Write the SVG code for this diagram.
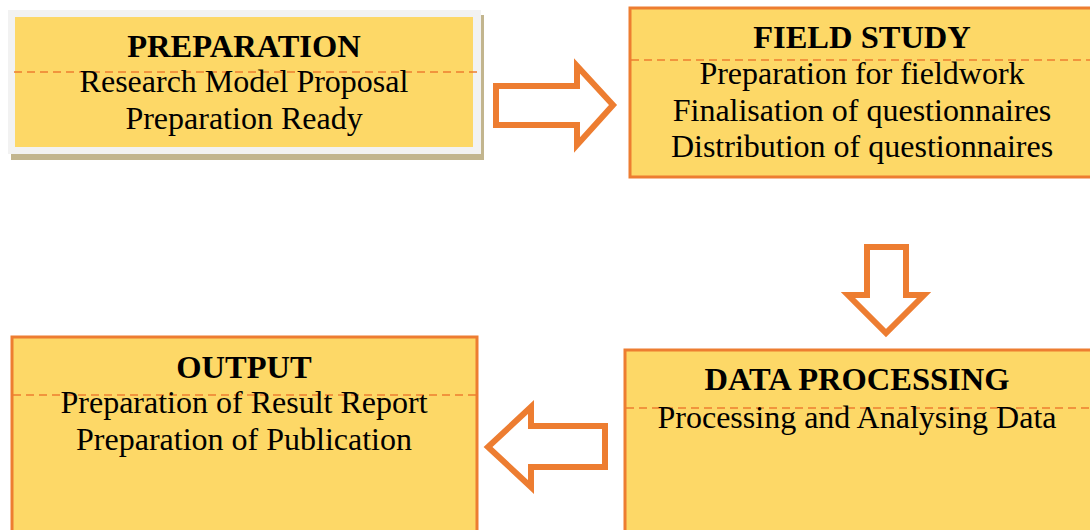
<svg xmlns="http://www.w3.org/2000/svg" width="1090" height="530" viewBox="0 0 1090 530">
<style>
.box{fill:#FDD867;stroke:#ED7D31;stroke-width:3}
.dash{stroke:#ED7D31;stroke-width:1.5;stroke-dasharray:8,5;fill:none}
.t{font-family:"Liberation Serif","Times New Roman",serif;font-size:32px;fill:#000;text-anchor:middle}
.b{font-weight:bold;font-size:32.5px}
.arrow{fill:#fff;stroke:#ED7D31;stroke-width:6;stroke-linejoin:miter}
</style>
<rect width="1090" height="530" fill="#fff"/>
<g id="preparation">
<rect x="11" y="15" width="473" height="145" fill="#C2B58E"/>
<rect x="8" y="10" width="473" height="144" fill="#F2F2F2"/>
<rect x="15" y="17" width="458" height="130" fill="#FDD867"/>
<line class="dash" x1="14" y1="72" x2="478" y2="72"/>
<text class="t b" x="244" y="57">PREPARATION</text>
<text class="t" x="244" y="92">Research Model Proposal</text>
<text class="t" x="244" y="129">Preparation Ready</text>
</g>
<g id="field-study">
<rect class="box" x="630" y="8" width="470" height="169"/>
<line class="dash" x1="631" y1="60" x2="1090" y2="60"/>
<text class="t b" x="862" y="48">FIELD STUDY</text>
<text class="t" x="862" y="84">Preparation for fieldwork</text>
<text class="t" x="862" y="121">Finalisation of questionnaires</text>
<text class="t" x="862" y="157">Distribution of questionnaires</text>
</g>
<g id="data-processing">
<rect class="box" x="625" y="350" width="475" height="190"/>
<line class="dash" x1="626" y1="408" x2="1090" y2="408"/>
<text class="t b" x="857" y="390">DATA PROCESSING</text>
<text class="t" x="857" y="428">Processing and Analysing Data</text>
</g>
<g id="output">
<rect class="box" x="12" y="337" width="465" height="203"/>
<line class="dash" x1="13" y1="395" x2="476" y2="395"/>
<text class="t b" x="244" y="378">OUTPUT</text>
<text class="t" x="244" y="413">Preparation of Result Report</text>
<text class="t" x="244" y="450">Preparation of Publication</text>
</g>
<g id="connectors">
<polygon class="arrow" points="496,86 577,86 577,66 613,105 577,145 577,125 496,125"/>
<polygon class="arrow" points="867,247 906,247 906,295 924,295 886,333 848,295 867,295"/>
<polygon class="arrow" points="605,426 531,426 531,407 488,447 531,487 531,467 605,467"/>
</g>
</svg>
